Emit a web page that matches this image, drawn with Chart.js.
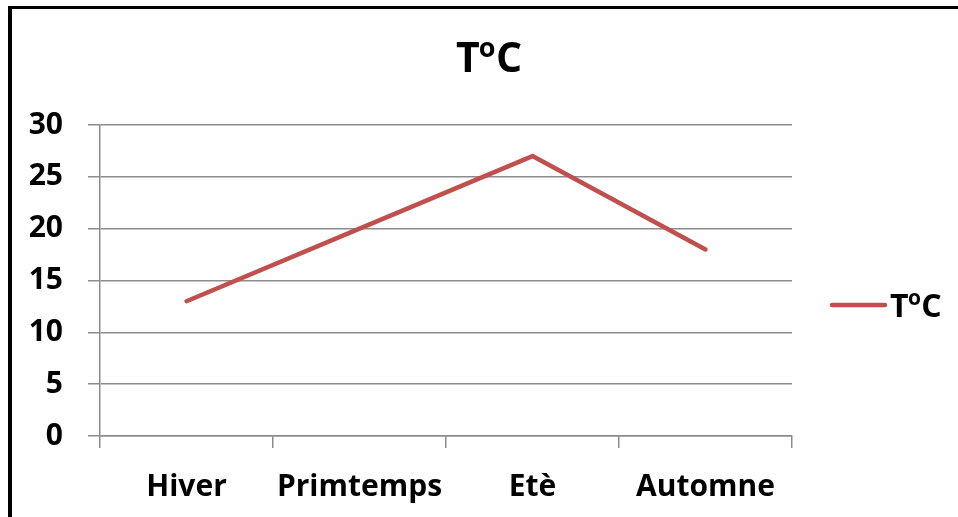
<!DOCTYPE html>
<html>
<head>
<meta charset="utf-8">
<script src="https://cdn.jsdelivr.net/npm/chart.js@4/dist/chart.umd.min.js"></script>
<style>
  html, body { margin: 0; padding: 0; background: #fff; }
  #wrap { position: relative; width: 958px; height: 517px; }
</style>
</head>
<body>
<div id="wrap"><canvas id="c" width="958" height="517"></canvas></div>
<script>
// Seasonal temperatures
const seasons = ['Hiver', 'Primtemps', 'Etè', 'Automne'];
const temperatures = [13, 20, 27, 18];
const yTicks = { min: 0, max: 30, step: 5 };

const FONT = '"Open Sans", Lato, sans-serif';
const LINE_COLOR = '#C0504D';
const GRID_COLOR = '#8c8c8c';

// Draws "T" + superscript "o" + "C" starting at x (left) with baseline y
function drawDegreeLabel(ctx, x, y, size) {
  const big = 'bold ' + size + 'px ' + FONT;
  const small = 'bold ' + Math.round(size * 0.66) + 'px ' + FONT;
  ctx.save();
  ctx.fillStyle = '#000';
  ctx.textBaseline = 'alphabetic';
  ctx.textAlign = 'left';
  ctx.font = big;
  ctx.fillText('T', x, y);
  let cx = x + ctx.measureText('T').width - size * 0.02;
  ctx.font = small;
  ctx.fillText('o', cx, y - size * 0.36);
  cx += ctx.measureText('o').width + size * 0.01;
  ctx.font = big;
  ctx.fillText('C', cx, y);
  ctx.restore();
}
function degreeLabelWidth(ctx, size) {
  ctx.save();
  ctx.font = 'bold ' + size + 'px ' + FONT;
  let w = ctx.measureText('T').width + ctx.measureText('C').width - size * 0.01;
  ctx.font = 'bold ' + Math.round(size * 0.66) + 'px ' + FONT;
  w += ctx.measureText('o').width;
  ctx.restore();
  return w;
}

// Frame, title and legend entry
const decorations = {
  id: 'decorations',
  beforeDraw(chart) {
    const ctx = chart.ctx;
    ctx.save();
    ctx.fillStyle = '#000';
    ctx.fillRect(8, 6, chart.width - 8, 3);   // top frame edge
    ctx.fillRect(8, 6, 4, chart.height - 6);  // left frame edge
    ctx.restore();
  },
  afterDraw(chart) {
    const ctx = chart.ctx;
    // title
    const ts = 41;
    const tw = degreeLabelWidth(ctx, ts);
    drawDegreeLabel(ctx, 489 - tw / 2, 72, ts);
    // legend
    ctx.save();
    ctx.strokeStyle = LINE_COLOR;
    ctx.lineWidth = 4.5;
    ctx.lineCap = 'round';
    ctx.beginPath();
    ctx.moveTo(832, 305);
    ctx.lineTo(885, 305);
    ctx.stroke();
    ctx.restore();
    drawDegreeLabel(ctx, 890, 317, 32);
  }
};

new Chart(document.getElementById('c'), {
  type: 'line',
  data: {
    labels: seasons,
    datasets: [{
      label: 'T°C',
      data: temperatures,
      borderColor: LINE_COLOR,
      backgroundColor: LINE_COLOR,
      borderWidth: 4.5,
      borderCapStyle: 'round',
      borderJoinStyle: 'round',
      pointRadius: 0,
      tension: 0
    }]
  },
  options: {
    responsive: false,
    animation: false,
    events: [],
    layout: { padding: { top: 125, right: 166, left: 0, bottom: 0 } },
    plugins: {
      legend: { display: false },
      title: { display: false },
      tooltip: { enabled: false }
    },
    scales: {
      x: {
        type: 'category',
        offset: true,
        grid: {
          offset: true,
          drawOnChartArea: false,
          drawTicks: true,
          tickLength: 12,
          color: GRID_COLOR,
          lineWidth: 1.5
        },
        border: { display: true, color: GRID_COLOR, width: 1.5 },
        ticks: {
          color: '#000',
          font: { family: FONT, size: 30, weight: 'bold' },
          padding: 21,
          maxRotation: 0,
          autoSkip: false
        },
        afterFit(scale) { scale.height = 81; }
      },
      y: {
        min: yTicks.min,
        max: yTicks.max,
        grid: {
          color: GRID_COLOR,
          lineWidth: 1.5,
          drawTicks: true,
          tickLength: 12
        },
        border: { display: true, color: GRID_COLOR, width: 1.5 },
        ticks: {
          stepSize: yTicks.step,
          color: '#000',
          font: { family: FONT, size: 30, weight: 'bold' },
          padding: 25
        },
        afterFit(scale) { scale.width = 100; }
      }
    }
  },
  plugins: [decorations]
});
</script>
</body>
</html>
